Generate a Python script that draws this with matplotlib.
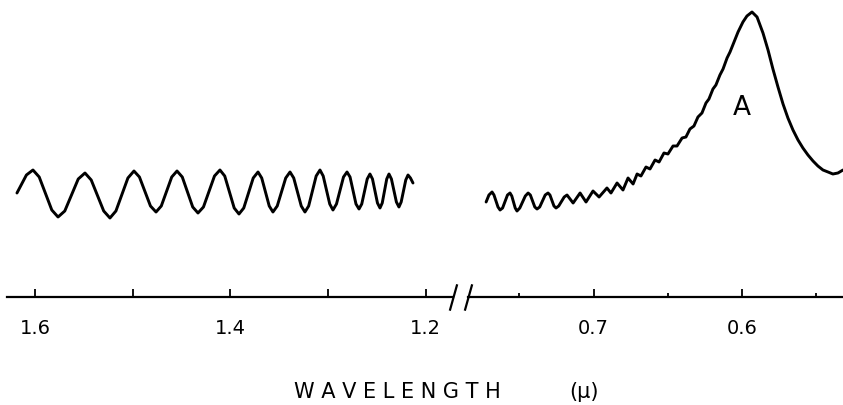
import matplotlib
matplotlib.use('Agg')
import matplotlib.pyplot as plt

# ---- data (wavelength in microns, relative signal) ----
left_wl = [1.6187, 1.6090, 1.6023,
           1.5959, 1.5830, 1.5766,
           1.5697, 1.5559, 1.5490,
           1.5426, 1.5298, 1.5234,
           1.5173, 1.5050, 1.4988,
           1.4932, 1.4819, 1.4762,
           1.4708, 1.4601, 1.4547,
           1.4493, 1.4386, 1.4332,
           1.4276, 1.4163, 1.4107,
           1.4058, 1.3961, 1.3912,
           1.3863, 1.3766, 1.3717,
           1.3679, 1.3602, 1.3564,
           1.3520, 1.3433, 1.3389,
           1.3351, 1.3274, 1.3236,
           1.3198, 1.3121, 1.3082,
           1.3049, 1.2982, 1.2949,
           1.2913, 1.2841, 1.2805,
           1.2774, 1.2713, 1.2682,
           1.2654, 1.2598, 1.2570,
           1.2544, 1.2493, 1.2467,
           1.2444, 1.2398, 1.2375,
           1.2350, 1.2299, 1.2273,
           1.2250, 1.2203, 1.2180,
           1.2155, 1.2129]
left_val = [1.04, 1.22, 1.27,
            1.20, 0.87, 0.80,
            0.86, 1.18, 1.24,
            1.17, 0.86, 0.79,
            0.86, 1.19, 1.26,
            1.20, 0.91, 0.85,
            0.91, 1.20, 1.26,
            1.20, 0.90, 0.84,
            0.90, 1.21, 1.27,
            1.21, 0.89, 0.83,
            0.89, 1.19, 1.25,
            1.19, 0.91, 0.85,
            0.91, 1.19, 1.25,
            1.19, 0.91, 0.85,
            0.91, 1.21, 1.27,
            1.21, 0.93, 0.87,
            0.93, 1.20, 1.25,
            1.20, 0.93, 0.88,
            0.93, 1.18, 1.23,
            1.18, 0.94, 0.89,
            0.94, 1.18, 1.23,
            1.18, 0.95, 0.90,
            0.95, 1.17, 1.22,
            1.19, 1.14]

right_wl = [0.7724, 0.7705, 0.7684,
            0.7671, 0.7644, 0.7630,
            0.7613, 0.7580, 0.7563,
            0.7551, 0.7528, 0.7516,
            0.7497, 0.7460, 0.7441,
            0.7426, 0.7396, 0.7381,
            0.7363, 0.7326, 0.7307,
            0.7294, 0.7267, 0.7253,
            0.7235, 0.7198, 0.7179,
            0.7138, 0.7091, 0.7051, 0.7004, 0.6963, 0.6910, 0.6883, 0.6842,
            0.6802, 0.6768, 0.6734,
            0.6707, 0.6681, 0.6647, 0.6620, 0.6586, 0.6559, 0.6526, 0.6499,
            0.6465, 0.6438, 0.6404, 0.6378, 0.6351, 0.6324, 0.6297, 0.6270,
            0.6243, 0.6223, 0.6196, 0.6176, 0.6149, 0.6128, 0.6101, 0.6081,
            0.6054, 0.6027, 0.5994, 0.5967, 0.5933,
            0.5899, 0.5859, 0.5825, 0.5792, 0.5758, 0.5724, 0.5691, 0.5657,
            0.5623, 0.5590, 0.5556, 0.5522, 0.5489, 0.5455, 0.5421, 0.5388,
            0.5354, 0.5320]
right_val = [0.95, 1.02, 1.05,
             1.02, 0.90, 0.87,
             0.89, 1.02, 1.04,
             1.01, 0.89, 0.86,
             0.89, 1.01, 1.04,
             1.02, 0.90, 0.88,
             0.90, 1.02, 1.04,
             1.02, 0.91, 0.89,
             0.91, 1.00, 1.02,
             0.94, 1.04, 0.95, 1.06, 1.00, 1.09, 1.04, 1.14,
             1.07, 1.19, 1.13,
             1.23, 1.21, 1.30, 1.28, 1.37, 1.35, 1.44, 1.43,
             1.51, 1.51, 1.59, 1.60, 1.68, 1.71, 1.80, 1.84,
             1.94, 1.98, 2.08, 2.12, 2.22, 2.28, 2.39, 2.45,
             2.55, 2.65, 2.75, 2.81, 2.85,
             2.80, 2.64, 2.47, 2.28, 2.10, 1.93, 1.79, 1.67,
             1.57, 1.49, 1.42, 1.36, 1.31, 1.27, 1.25, 1.23,
             1.24, 1.27]

left_ticks = [1.6, 1.5, 1.4, 1.3, 1.2]
left_ticklabels = ['1.6', '', '1.4', '', '1.2']
right_major = [0.7, 0.6]
right_major_labels = ['0.7', '0.6']
right_minor = [0.75, 0.65, 0.55]

xlabel_text = 'W A V E L E N G T H'
unit_text = '(\u03bc)'
peak_label = 'A'
peak_label_pos = (0.600, 1.89)

# ---- figure ----
W, H = 843, 405
fig = plt.figure(figsize=(W / 100, H / 100), dpi=100)
axL = fig.add_axes([7 / W, 108 / H, 446 / W, 297 / H])
axR = fig.add_axes([468 / W, 108 / H, 375 / W, 297 / H])

for ax in (axL, axR):
    ax.set_ylim(0, 2.97)
    for s in ('top', 'left', 'right'):
        ax.spines[s].set_visible(False)
    ax.spines['bottom'].set_linewidth(1.6)
    ax.set_yticks([])
    ax.patch.set_alpha(0)
    ax.tick_params(axis='x', direction='in', length=5.5, width=1.3,
                   pad=16, labelsize=14)

axL.set_xlim(1.6289, 1.1719)
axR.set_xlim(0.7846, 0.5320)

axL.plot(left_wl, left_val, color='black', lw=2.1,
         solid_joinstyle='round', solid_capstyle='round', clip_on=False)
axR.plot(right_wl, right_val, color='black', lw=2.1,
         solid_joinstyle='round', solid_capstyle='round', clip_on=False)

axL.set_xticks(left_ticks)
axL.set_xticklabels(left_ticklabels)
axR.set_xticks(right_major)
axR.set_xticklabels(right_major_labels)
axR.set_xticks(right_minor, minor=True)
axR.tick_params(axis='x', which='minor', direction='in', length=3, width=1.3)

# axis break marks
brk = dict(marker=[(-0.28, -1), (0.28, 1)], markersize=19, linestyle='none',
           color='black', mec='black', mew=1.6, clip_on=False)
axL.plot([1], [0], transform=axL.transAxes, **brk)
axR.plot([0], [0], transform=axR.transAxes, **brk)

axR.text(peak_label_pos[0], peak_label_pos[1], peak_label, ha='center',
         va='center', fontsize=19)

fig.text(397.5 / W, 7 / H, xlabel_text, ha='center', va='baseline', fontsize=15)
fig.text(584 / W, 7 / H, unit_text, ha='center', va='baseline', fontsize=15)

fig.savefig('out.png', dpi=100)
